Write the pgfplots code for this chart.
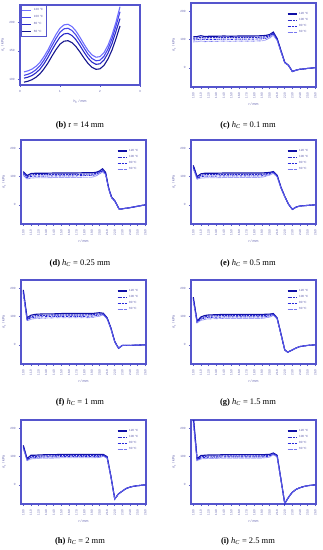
\documentclass[border=0pt]{standalone}
\usepackage{fontspec}
\setmainfont{Liberation Serif}
\newfontfamily\axfont{Liberation Sans}
\usepackage{pgfplots}
\pgfplotsset{compat=1.18}
\definecolor{axblue}{RGB}{85,85,205}
\definecolor{tkblue}{RGB}{90,90,170}
\definecolor{cA}{RGB}{15,15,165}
\definecolor{cB}{RGB}{45,45,205}
\definecolor{cC}{RGB}{40,40,220}
\definecolor{cD}{RGB}{120,120,240}
\definecolor{bA}{RGB}{110,110,255}
\definecolor{bB}{RGB}{70,70,235}
\definecolor{bC}{RGB}{40,40,200}
\definecolor{bD}{RGB}{20,20,140}
\pgfplotsset{
  base/.style={scale only axis, anchor=north west,
    axis line style={axblue, line width=1.1pt},
    tick style={axblue, line width=0.6pt},
    tick align=outside, major tick length=2pt,
    xtick pos=lower, ytick pos=left,
    tick label style={font=\axfont\fontsize{3}{3.5}\selectfont, text=tkblue},
    label style={font=\axfont\fontsize{3.5}{4}\selectfont, text=tkblue},
    /pgf/number format/assume math mode=true,
    ylabel style={yshift=-2pt},
    legend image code/.code={\draw[##1] (0pt,0pt) -- (9pt,0pt);},
  },
  rplot/.style={base, width=125pt, height=84pt,
    xmin=-0.3, xmax=16.1, ymin=-68, ymax=230,
    ytick={0,100,200}, xtick={0,...,16},
    xticklabels={10.0,11.0,12.0,13.0,14.0,15.0,16.0,17.0,18.0,19.0,20.0,21.0,22.0,23.0,24.0,25.0,26.0},
    x tick label style={rotate=90, anchor=east},
    xlabel={r / mm}, ylabel={σ\textsubscript{z} / kPa},
    xlabel style={yshift=2pt},
    legend style={at={(0.98,0.94)}, anchor=north east, draw=none, fill=none,
      font=\axfont\fontsize{3}{3.5}\selectfont, text=tkblue, row sep=-1.5pt},
    legend cell align=left,
  },
  sA/.style={cA, line width=1.1pt},
  sB/.style={cB, line width=1.1pt, dash pattern=on 2pt off 0.8pt},
  sC/.style={cC, line width=0.9pt, dash pattern=on 2pt off 0.8pt on 0.6pt off 0.8pt},
  sD/.style={cD, line width=0.9pt, dash pattern=on 0.6pt off 0.6pt},
}
\newcommand{\capfont}{\fontsize{8.5}{10}\selectfont}
\begin{document}
\begin{tikzpicture}[x=1pt,y=1pt]
\useasboundingbox (0,0) rectangle (323,-550);

% (b)
\begin{axis}[base, at={(20pt,-5pt)}, width=120pt, height=80pt,
  xmin=0, xmax=3, ymin=90, ymax=231, xtick={0,1,2,3}, ytick={100,150,200},
  xlabel={h\textsubscript{C} / mm}, ylabel={σ\textsubscript{z} / kPa},
  legend style={at={(0.005,0.995)}, anchor=north west, draw=axblue, line width=0.5pt, fill=white,
    font=\axfont\fontsize{3}{3.5}\selectfont, text=tkblue, row sep=-0.5pt, inner sep=1pt},
  legend cell align=left]
\addplot[bA, line width=1.1pt] coordinates {(0.1,113)(0.2,115)(0.3,118)(0.4,123)(0.5,130)(0.6,140)(0.7,152)(0.8,166)(0.9,179)(1.0,190)(1.1,196)(1.2,197)(1.3,193)(1.4,185)(1.5,174)(1.6,162)(1.7,151)(1.8,143)(1.9,139)(2.0,140)(2.1,147)(2.2,160)(2.3,178)(2.4,201)(2.5,228)};
\addplot[bB, line width=1.1pt] coordinates {(0.1,107)(0.2,109)(0.3,112)(0.4,117)(0.5,124)(0.6,134)(0.7,146)(0.8,159.5)(0.9,172)(1.0,183)(1.1,189)(1.2,190)(1.3,186)(1.4,178)(1.5,167)(1.6,155.5)(1.7,144.5)(1.8,136.7)(1.9,132.7)(2.0,133.7)(2.1,140.7)(2.2,153.5)(2.3,171.4)(2.4,194)(2.5,219)};
\addplot[bC, line width=1.1pt] coordinates {(0.1,102)(0.2,103.9)(0.3,106.7)(0.4,111.4)(0.5,118)(0.6,127.4)(0.7,138.7)(0.8,151.8)(0.9,164)(1.0,174.4)(1.1,180)(1.2,181)(1.3,177.2)(1.4,169.7)(1.5,159.3)(1.6,148)(1.7,137.7)(1.8,130.2)(1.9,126.4)(2.0,127.4)(2.1,134)(2.2,146.2)(2.3,163.1)(2.4,184.7)(2.5,207)};
\addplot[bD, line width=1.1pt] coordinates {(0.1,95)(0.2,96.7)(0.3,99.4)(0.4,103.7)(0.5,109.8)(0.6,118.5)(0.7,128.9)(0.8,141.1)(0.9,152.4)(1.0,162)(1.1,167.2)(1.2,168.1)(1.3,164.6)(1.4,157.6)(1.5,148.1)(1.6,137.6)(1.7,128.1)(1.8,121.1)(1.9,117.6)(2.0,118.5)(2.1,124.6)(2.2,135.9)(2.3,151.6)(2.4,171.6)(2.5,194)};
\legend{120 °C, 100 °C, 80 °C, 60 °C}
\end{axis}
\node[font=\capfont] at (80,-125) {\textbf{(b)} r = 14 mm};

% (c) h=0.1
\begin{axis}[rplot, at={(191pt,-3pt)}]
\addplot[sA] coordinates {(0,110)(0.5,111)(1,114)(1.5,111)(2,112)(3,112)(4,113)(5,112)(6,113)(7,113)(8,113)(9,114)(9.5,115)(10,118)(10.5,127)(11,104)(11.5,62)(12,20)(12.5,9)(13,-13)(13.5,-8)(14,-5)(14.5,-4)(15,-2)(15.5,-1)(16,1)};
\addplot[sB] coordinates {(0,105)(0.5,106)(1,108)(1.5,106)(2,107)(3,107)(4,108)(5,107)(6,108)(7,108)(8,108)(9,109)(9.5,110)(10,114)(10.5,123)(11,102)(11.5,60)(12,19)(12.5,8)(13,-13)(13.5,-8)(14,-5)(14.5,-4)(15,-2)(15.5,-1)(16,1)};
\addplot[sC] coordinates {(0,99)(0.5,100)(1,102)(1.5,100)(2,101)(3,101)(4,102)(5,101)(6,102)(7,102)(8,102)(9,103)(9.5,105)(10,110)(10.5,119)(11,99)(11.5,58)(12,18)(12.5,8)(13,-13)(13.5,-8)(14,-5)(14.5,-4)(15,-2)(15.5,-1)(16,1)};
\addplot[sD] coordinates {(0,92)(0.5,93)(1,95)(1.5,93)(2,94)(3,94)(4,95)(5,94)(6,95)(7,95)(8,95)(9,96)(9.5,99)(10,105)(10.5,115)(11,97)(11.5,57)(12,18)(12.5,8)(13,-13)(13.5,-8)(14,-5)(14.5,-4)(15,-2)(15.5,-1)(16,1)};
\legend{120 °C, 100 °C, 80 °C, 60 °C}
\end{axis}
\node[font=\capfont] at (248,-125) {\textbf{(c)} \textit{h}\textsubscript{\textit{C}} = 0.1 mm};

% (d) h=0.25
\begin{axis}[rplot, at={(21pt,-140pt)}]
\addplot[sA] coordinates {(0,118)(0.5,104)(1,111)(1.5,112)(2,112)(3,112)(4,113)(5,113)(6,113)(7,113)(8,114)(9,114)(9.5,115)(10,120)(10.4,128)(10.8,115)(11.2,60)(11.6,27)(12,15)(12.6,-16)(13,-14)(14,-10)(15,-5)(16,0)};
\addplot[sB] coordinates {(0,114)(0.5,100)(1,106)(1.5,107)(2,107)(3,107)(4,108)(5,108)(6,108)(7,108)(8,109)(9,109)(9.5,111)(10,117)(10.4,124)(10.8,112)(11.2,58)(11.6,25)(12,14)(12.6,-16)(13,-14)(14,-10)(15,-5)(16,0)};
\addplot[sC] coordinates {(0,110)(0.5,96)(1,101)(1.5,102)(2,102)(3,102)(4,103)(5,103)(6,103)(7,103)(8,104)(9,104)(9.5,107)(10,114)(10.4,120)(10.8,110)(11.2,57)(11.6,24)(12,14)(12.6,-16)(13,-14)(14,-10)(15,-5)(16,0)};
\addplot[sD] coordinates {(0,104)(0.5,92)(1,95)(1.5,96)(2,96)(3,96)(4,97)(5,97)(6,97)(7,97)(8,98)(9,98)(9.5,102)(10,110)(10.4,116)(10.8,108)(11.2,56)(11.6,24)(12,13)(12.6,-16)(13,-14)(14,-10)(15,-5)(16,0)};
\legend{120 °C, 100 °C, 80 °C, 60 °C}
\end{axis}
\node[font=\capfont] at (80,-263) {\textbf{(d)} \textit{h}\textsubscript{\textit{C}} = 0.25 mm};

% (e) h=0.5
\begin{axis}[rplot, at={(191pt,-140pt)}]
\addplot[sA] coordinates {(0,140)(0.5,100)(1,110)(1.5,112)(2,112)(3,112)(4,113)(5,113)(6,113)(7,113)(8,113)(9,113)(10,115)(10.5,118)(11,105)(11.5,63)(12,30)(12.5,2)(13,-16)(13.5,-8)(14,-4)(15,-2)(16,0)};
\addplot[sB] coordinates {(0,136)(0.5,97)(1,105)(1.5,107)(2,107)(3,107)(4,108)(5,108)(6,108)(7,108)(8,108)(9,108)(10,112)(10.5,116)(11,103)(11.5,62)(12,29)(12.5,2)(13,-16)(13.5,-8)(14,-4)(15,-2)(16,0)};
\addplot[sC] coordinates {(0,132)(0.5,94)(1,100)(1.5,102)(2,102)(3,102)(4,103)(5,103)(6,103)(7,103)(8,103)(9,103)(10,109)(10.5,114)(11,101)(11.5,61)(12,29)(12.5,2)(13,-16)(13.5,-8)(14,-4)(15,-2)(16,0)};
\addplot[sD] coordinates {(0,127)(0.5,91)(1,95)(1.5,96)(2,96)(3,96)(4,97)(5,97)(6,97)(7,97)(8,97)(9,98)(10,105)(10.5,112)(11,99)(11.5,60)(12,28)(12.5,2)(13,-16)(13.5,-8)(14,-4)(15,-2)(16,0)};
\legend{120 °C, 100 °C, 80 °C, 60 °C}
\end{axis}
\node[font=\capfont] at (248,-263) {\textbf{(e)} \textit{h}\textsubscript{\textit{C}} = 0.5 mm};

% (f) h=1
\begin{axis}[rplot, at={(21pt,-280pt)}]
\addplot[sA] coordinates {(0,195)(0.5,96)(1,105)(1.5,108)(2,109)(3,110)(4,110)(5,111)(6,111)(7,111)(8,111)(9,111)(10,114)(10.5,112)(11,96)(11.5,60)(12,12)(12.5,-12)(13,-2)(14,-2)(15,-1)(16,0)};
\addplot[sB] coordinates {(0,190)(0.5,91)(1,100)(1.5,103)(2,104)(3,105)(4,106)(5,106)(6,106)(7,106)(8,106)(9,107)(10,110)(10.5,110)(11,94)(11.5,58)(12,11)(12.5,-12)(13,-2)(14,-2)(15,-1)(16,0)};
\addplot[sC] coordinates {(0,185)(0.5,88)(1,96)(1.5,98)(2,99)(3,100)(4,101)(5,101)(6,101)(7,101)(8,101)(9,102)(10,106)(10.5,108)(11,93)(11.5,57)(12,11)(12.5,-12)(13,-2)(14,-2)(15,-1)(16,0)};
\addplot[sD] coordinates {(0,180)(0.5,85)(1,91)(1.5,93)(2,94)(3,95)(4,96)(5,96)(6,96)(7,96)(8,96)(9,97)(10,102)(10.5,106)(11,92)(11.5,56)(12,10)(12.5,-12)(13,-2)(14,-2)(15,-1)(16,0)};
\legend{120 °C, 100 °C, 80 °C, 60 °C}
\end{axis}
\node[font=\capfont] at (80,-402) {\textbf{(f)} \textit{h}\textsubscript{\textit{C}} = 1 mm};

% (g) h=1.5
\begin{axis}[rplot, at={(191pt,-280pt)}]
\addplot[sA] coordinates {(0,169)(0.5,84)(1,99)(1.5,104)(2,106)(3,107)(4,108)(5,108)(6,108)(7,108)(8,108)(9,108)(10,109)(10.5,111)(11,96)(11.5,40)(12,-18)(12.4,-26)(13,-18)(13.5,-11)(14,-6)(15,-2)(16,0)};
\addplot[sB] coordinates {(0,165)(0.5,82)(1,95)(1.5,100)(2,102)(3,103)(4,104)(5,104)(6,104)(7,104)(8,104)(9,104)(10,106)(10.5,109)(11,94)(11.5,39)(12,-18)(12.4,-26)(13,-18)(13.5,-11)(14,-6)(15,-2)(16,0)};
\addplot[sC] coordinates {(0,160)(0.5,80)(1,91)(1.5,95)(2,97)(3,98)(4,99)(5,99)(6,99)(7,99)(8,99)(9,99)(10,102)(10.5,107)(11,93)(11.5,38)(12,-18)(12.4,-26)(13,-18)(13.5,-11)(14,-6)(15,-2)(16,0)};
\addplot[sD] coordinates {(0,155)(0.5,78)(1,87)(1.5,90)(2,92)(3,93)(4,94)(5,94)(6,94)(7,94)(8,94)(9,94)(10,98)(10.5,105)(11,92)(11.5,37)(12,-18)(12.4,-26)(13,-18)(13.5,-11)(14,-6)(15,-2)(16,0)};
\legend{120 °C, 100 °C, 80 °C, 60 °C}
\end{axis}
\node[font=\capfont] at (248,-402) {\textbf{(g)} \textit{h}\textsubscript{\textit{C}} = 1.5 mm};

% (h) h=2
\begin{axis}[rplot, at={(21pt,-420pt)}]
\addplot[sA] coordinates {(0,140)(0.5,93)(1,105)(1.5,105)(2,106)(3,107)(4,107)(5,108)(6,108)(7,108)(8,108)(9,108)(10,108)(10.5,108)(11,100)(11.5,30)(12,-50)(12.5,-32)(13,-22)(13.5,-13)(14,-8)(14.5,-5)(15,-3)(16,0)};
\addplot[sB] coordinates {(0,136)(0.5,90)(1,100)(1.5,101)(2,102)(3,103)(4,103)(5,104)(6,104)(7,104)(8,104)(9,104)(10,104)(10.5,105)(11,98)(11.5,29)(12,-50)(12.5,-32)(13,-22)(13.5,-13)(14,-8)(14.5,-5)(15,-3)(16,0)};
\addplot[sC] coordinates {(0,132)(0.5,88)(1,96)(1.5,97)(2,98)(3,99)(4,99)(5,100)(6,100)(7,100)(8,100)(9,100)(10,100)(10.5,103)(11,96)(11.5,28)(12,-50)(12.5,-32)(13,-22)(13.5,-13)(14,-8)(14.5,-5)(15,-3)(16,0)};
\addplot[sD] coordinates {(0,128)(0.5,86)(1,92)(1.5,93)(2,94)(3,95)(4,95)(5,96)(6,96)(7,96)(8,96)(9,96)(10,97)(10.5,101)(11,95)(11.5,27)(12,-50)(12.5,-32)(13,-22)(13.5,-13)(14,-8)(14.5,-5)(15,-3)(16,0)};
\legend{120 °C, 100 °C, 80 °C, 60 °C}
\end{axis}
\node[font=\capfont] at (80,-541) {\textbf{(h)} \textit{h}\textsubscript{\textit{C}} = 2 mm};

% (i) h=2.5
\begin{axis}[rplot, at={(191pt,-420pt)}]
\addplot[sA] coordinates {(0,245)(0.5,93)(1,104)(1.5,105)(2,106)(3,106)(4,107)(5,107)(6,107)(7,107)(8,107)(9,107)(10,108)(10.5,113)(11,105)(11.5,20)(12,-66)(12.5,-44)(13,-26)(13.5,-16)(14,-10)(14.5,-6)(15,-3)(16,0)};
\addplot[sB] coordinates {(0,238)(0.5,90)(1,100)(1.5,101)(2,102)(3,102)(4,103)(5,103)(6,103)(7,103)(8,103)(9,103)(10,105)(10.5,111)(11,103)(11.5,19)(12,-66)(12.5,-44)(13,-26)(13.5,-16)(14,-10)(14.5,-6)(15,-3)(16,0)};
\addplot[sC] coordinates {(0,228)(0.5,88)(1,96)(1.5,97)(2,98)(3,98)(4,99)(5,99)(6,99)(7,99)(8,99)(9,99)(10,102)(10.5,109)(11,101)(11.5,18)(12,-66)(12.5,-44)(13,-26)(13.5,-16)(14,-10)(14.5,-6)(15,-3)(16,0)};
\addplot[sD] coordinates {(0,218)(0.5,86)(1,92)(1.5,93)(2,94)(3,94)(4,95)(5,95)(6,95)(7,95)(8,95)(9,95)(10,98)(10.5,107)(11,99)(11.5,17)(12,-66)(12.5,-44)(13,-26)(13.5,-16)(14,-10)(14.5,-6)(15,-3)(16,0)};
\legend{120 °C, 100 °C, 80 °C, 60 °C}
\end{axis}
\node[font=\capfont] at (248,-541) {\textbf{(i)} \textit{h}\textsubscript{\textit{C}} = 2.5 mm};
\end{tikzpicture}
\end{document}
